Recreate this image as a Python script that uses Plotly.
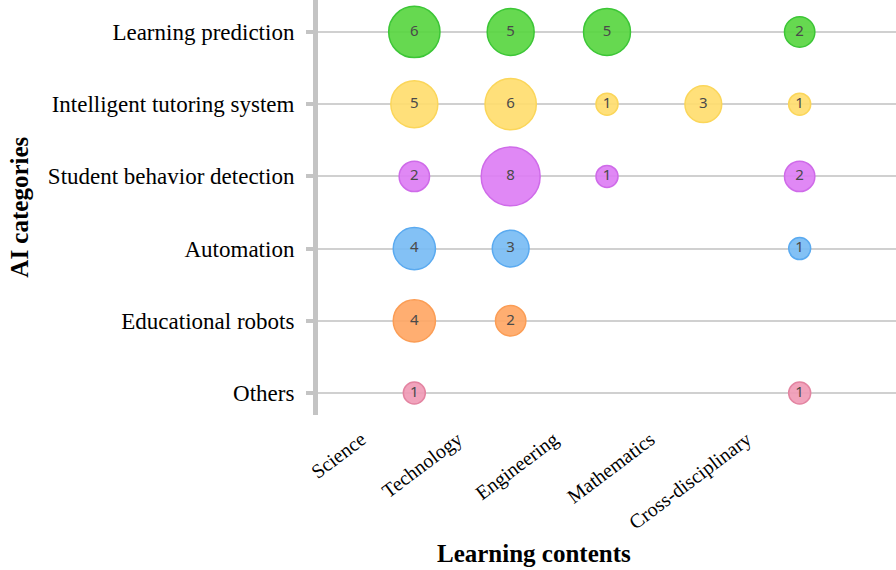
import plotly.graph_objects as go
import math

learning_contents = ["Science", "Technology", "Engineering", "Mathematics", "Cross-disciplinary"]
ai_categories = ["Learning prediction", "Intelligent tutoring system", "Student behavior detection",
                 "Automation", "Educational robots", "Others"]

learning_prediction = [6, 5, 5, 0, 2]
intelligent_tutoring = [5, 6, 1, 3, 1]
student_behavior = [2, 8, 1, 0, 2]
automation = [4, 3, 0, 0, 1]
educational_robots = [4, 2, 0, 0, 0]
others = [1, 0, 0, 0, 1]

series = [learning_prediction, intelligent_tutoring, student_behavior, automation, educational_robots, others]

fills = ["rgba(85,213,61,0.9)", "rgba(255,221,107,0.9)", "rgba(221,123,244,0.9)",
         "rgba(118,186,244,0.9)", "rgba(255,165,98,0.9)", "rgba(240,153,181,0.9)"]
edges = ["#3cc636", "#fbd65a", "#cf6be9", "#5aaaf0", "#fb9d55", "#e384a1"]

fig = go.Figure()
for cat, vals, fc, ec in zip(ai_categories, series, fills, edges):
    xs = [c for c, v in zip(learning_contents, vals) if v > 0]
    vs = [v for v in vals if v > 0]
    fig.add_trace(go.Scatter(
        x=xs, y=[cat] * len(xs), mode="markers+text",
        text=[str(v) for v in vs], textposition="middle center",
        textfont=dict(family="Noto Sans", size=15, color="#4a4a4a"),
        marker=dict(size=[1.8 + 20.2 * math.sqrt(v) for v in vs], color=fc, opacity=1,
                    line=dict(color=ec, width=1.5)),
        showlegend=False, cliponaxis=False, hoverinfo="skip"))

fig.update_layout(
    width=896, height=570,
    margin=dict(l=318, r=0, t=0, b=155),
    plot_bgcolor="white", paper_bgcolor="white",
    font=dict(family="Liberation Serif", color="black"),
    annotations=[
        dict(text="<b>Learning contents</b>", xref="paper", yref="paper", x=0.374, y=-0.333,
             xanchor="center", yanchor="middle", showarrow=False,
             font=dict(family="Liberation Serif", size=25, color="black")),
        dict(text="<b>AI categories</b>", xref="paper", yref="paper", x=-0.517, y=0.5,
             xanchor="center", yanchor="middle", showarrow=False, textangle=-90,
             font=dict(family="Liberation Serif", size=25, color="black")),
    ],
)
fig.update_xaxes(
    type="category", categoryorder="array", categoryarray=learning_contents,
    range=[-1, 5], showgrid=False, zeroline=False, showline=False, automargin=False,
    tickangle=-37, tickfont=dict(family="Liberation Serif", size=20, color="black"),
    ticklabelshift=-53, ticklabelstandoff=8,
)
fig.update_yaxes(
    type="category", categoryorder="array", categoryarray=ai_categories[::-1],
    range=[-0.305, 5.443], showgrid=True, gridcolor="#d0d0d0", gridwidth=2,
    zeroline=False, showline=True, linecolor="#c4c4c4", linewidth=5, automargin=False,
    ticks="outside", ticklen=7, tickwidth=4, tickcolor="#c4c4c4",
    tickfont=dict(family="Liberation Serif", size=23, color="black"),
    ticklabelstandoff=7,
)

fig.write_html("out.html", post_script="document.body.style.margin='0';",
               config={"displayModeBar": False})
